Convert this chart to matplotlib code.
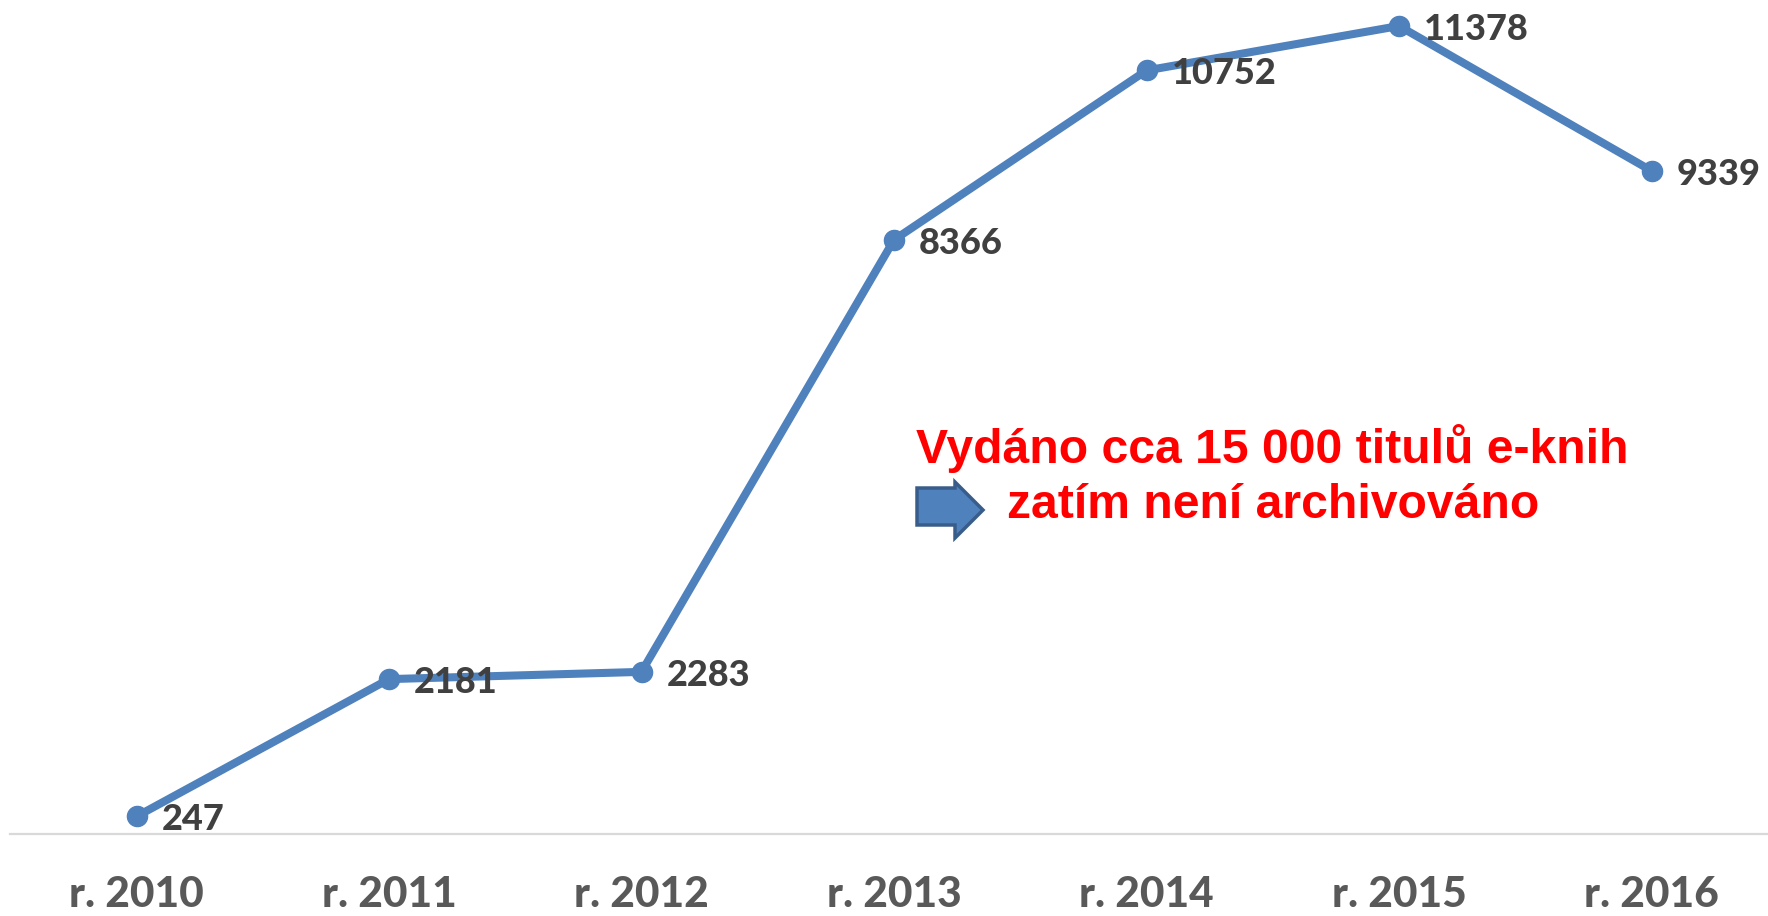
import matplotlib
matplotlib.use("Agg")
import matplotlib.pyplot as plt
from matplotlib.patches import Polygon

years = ["r. 2010", "r. 2011", "r. 2012", "r. 2013", "r. 2014", "r. 2015", "r. 2016"]
values = [247, 2181, 2283, 8366, 10752, 11378, 9339]
note_line1 = "Vydáno cca 15 000 titulů e-knih"
note_line2 = "zatím není archivováno"

W, H = 1768, 916
fig = plt.figure(figsize=(W / 100, H / 100), dpi=100)
ax = fig.add_axes([10.25 / W, (H - 834) / H, 1767.5 / W, 834 / H])

x = list(range(len(years)))
ax.plot(x, values, color="#4F81BD", lw=5.8, marker="o", ms=14.5,
        solid_capstyle="round", zorder=3, clip_on=False)

for xi, v in zip(x, values):
    ax.annotate(str(v), (xi, v), xytext=(18, -10), textcoords="offset points",
                ha="left", va="baseline", fontsize=26, fontweight=900,
                family="Lato", color="#404040", zorder=4)

ax.set_xlim(-0.5, len(years) - 0.5)
ax.set_ylim(0, 11744)
ax.set_xticks(x)
ax.set_xticklabels(years, fontsize=30.5, fontweight=900, family="Lato", color="#595959")
ax.tick_params(axis="x", length=0, pad=30)
ax.set_yticks([])
for s in ["top", "right", "left"]:
    ax.spines[s].set_visible(False)
ax.spines["bottom"].set_color("#D9D9D9")
ax.spines["bottom"].set_linewidth(1.6)
ax.patch.set_alpha(0)

fig.text(1272 / W, 1 - 463 / H, note_line1, ha="center", va="baseline",
         fontsize=34.7, fontweight="bold", family="Liberation Sans", color="#FF0000")
fig.text(1273 / W, 1 - 518 / H, note_line2, ha="center", va="baseline",
         fontsize=34.7, fontweight="bold", family="Liberation Sans", color="#FF0000")

arrow_px = [(917, 488), (955, 488), (955, 482), (983, 510), (955, 538), (955, 525), (917, 525)]
arrow = Polygon([(px / W, 1 - py / H) for px, py in arrow_px], closed=True,
                transform=fig.transFigure, facecolor="#4F81BD", edgecolor="#385D8A",
                linewidth=2.5, joinstyle="miter")
fig.patches.append(arrow)

fig.savefig("out.png", dpi=100, facecolor="white")
